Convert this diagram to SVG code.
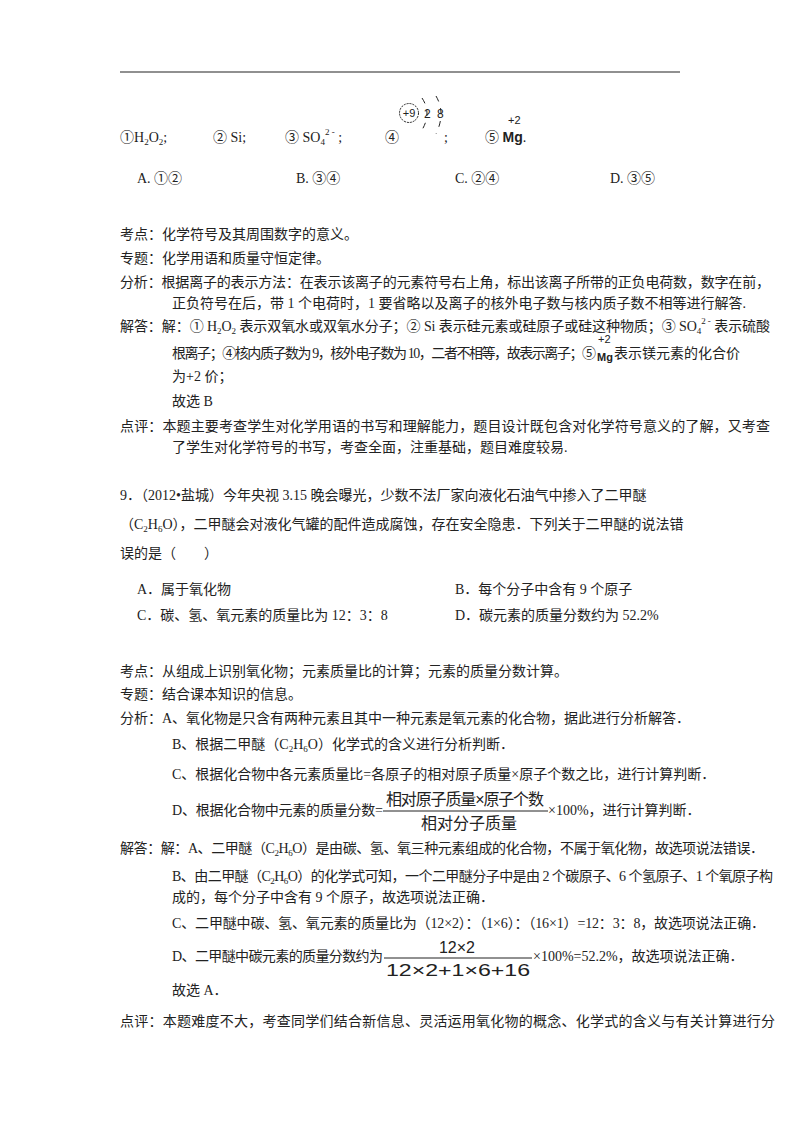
<svg xmlns="http://www.w3.org/2000/svg" width="800" height="1132" viewBox="0 0 800 1132">
<style>
text{font-family:"Liberation Serif","Noto Sans CJK SC",serif;font-size:14px;fill:#222}
.s{font-family:"Liberation Sans","Noto Sans CJK SC",sans-serif}
.sm{font-size:9px}
</style>
<rect width="800" height="1132" fill="#fff"/>
<line x1="120" y1="72" x2="680" y2="72" stroke="#222" stroke-width="1.2"/>
<g id="q8">
<text x="120" y="142">①H<tspan dy="3" class="sm">2</tspan><tspan dy="-3">O</tspan><tspan dy="3" class="sm">2</tspan><tspan dy="-3">;</tspan></text>
<text x="213" y="142">② Si;</text>
<text x="285" y="142">③ SO<tspan dy="3" class="sm">4</tspan><tspan dy="-10" class="sm">2 -</tspan><tspan dy="7"> ;</tspan></text>
<text x="385" y="142">④</text>
<circle cx="409" cy="113" r="9.5" fill="none" stroke="#222" stroke-dasharray="2,1"/>
<text x="409" y="117" class="s" style="font-size:11px" text-anchor="middle">+9</text>
<path d="M422 98 Q432 113 422 130 M436 96 Q446 113 436 134" fill="none" stroke="#222" stroke-dasharray="6,7"/>
<text x="424" y="118" class="s" style="font-size:12px">2</text>
<text x="437" y="118" class="s" style="font-size:12px">8</text>
<text x="444" y="142">;</text>
<text x="485" y="142">⑤ <tspan class="s" font-weight="bold">Mg</tspan>.</text>
<text x="508" y="124" class="s" style="font-size:11px">+2</text>
<text x="137" y="183">A. ①②</text>
<text x="296" y="183">B. ③④</text>
<text x="455" y="183">C. ②④</text>
<text x="610" y="183">D. ③⑤</text>
<text x="120" y="239">考点：化学符号及其周围数字的意义。</text>
<text x="120" y="263">专题：化学用语和质量守恒定律。</text>
<text x="120" y="287" textLength="650" lengthAdjust="spacing">分析：根据离子的表示方法：在表示该离子的元素符号右上角，标出该离子所带的正负电荷数，数字在前，</text>
<text x="172" y="308">正负符号在后，带 1 个电荷时，1 要省略以及离子的核外电子数与核内质子数不相等进行解答.</text>
<text x="120" y="331" textLength="650" lengthAdjust="spacing">解答：解：① H<tspan dy="3" class="sm">2</tspan><tspan dy="-3">O</tspan><tspan dy="3" class="sm">2</tspan><tspan dy="-3"> 表示双氧水或双氧水分子；② Si 表示硅元素或硅原子或硅这种物质；③ SO</tspan><tspan dy="3" class="sm">4</tspan><tspan dy="-10" class="sm">2 -</tspan><tspan dy="7"> 表示硫酸</tspan></text>
<text x="172" y="358" textLength="424" lengthAdjust="spacing">根离子；④核内质子数为 9，核外电子数为 10，二者不相等，故表示离子；⑤</text>
<text x="598" y="343" class="s" style="font-size:11px">+2</text>
<text x="597" y="361" class="s" font-weight="bold" style="font-size:11px">Mg</text>
<text x="614" y="358">表示镁元素的化合价</text>
<text x="172" y="381">为+2 价；</text>
<text x="172" y="406">故选 B</text>
<text x="120" y="431" textLength="650" lengthAdjust="spacing">点评：本题主要考查学生对化学用语的书写和理解能力，题目设计既包含对化学符号意义的了解，又考查</text>
<text x="172" y="452">了学生对化学符号的书写，考查全面，注重基础，题目难度较易.</text>
</g>
<g id="q9">
<text x="120" y="500">9．（2012•盐城）今年央视 3.15 晚会曝光，少数不法厂家向液化石油气中掺入了二甲醚</text>
<text x="120" y="529">（C<tspan dy="3" class="sm">2</tspan><tspan dy="-3">H</tspan><tspan dy="3" class="sm">6</tspan><tspan dy="-3">O），二甲醚会对液化气罐的配件造成腐蚀，存在安全隐患．下列关于二甲醚的说法错</tspan></text>
<text x="120" y="558">误的是（　　）</text>
<text x="137" y="594">A．属于氧化物</text>
<text x="455" y="594">B．每个分子中含有 9 个原子</text>
<text x="137" y="620">C．碳、氢、氧元素的质量比为 12：3：8</text>
<text x="455" y="620">D．碳元素的质量分数约为 52.2%</text>
<text x="120" y="676">考点：从组成上识别氧化物；元素质量比的计算；元素的质量分数计算。</text>
<text x="120" y="699">专题：结合课本知识的信息。</text>
<text x="120" y="723">分析：A、氧化物是只含有两种元素且其中一种元素是氧元素的化合物，据此进行分析解答．</text>
<text x="172" y="749">B、根据二甲醚（C<tspan dy="3" class="sm">2</tspan><tspan dy="-3">H</tspan><tspan dy="3" class="sm">6</tspan><tspan dy="-3">O）化学式的含义进行分析判断．</tspan></text>
<text x="172" y="779">C、根据化合物中各元素质量比=各原子的相对原子质量×原子个数之比，进行计算判断．</text>
<text x="172" y="815" textLength="211" lengthAdjust="spacing">D、根据化合物中元素的质量分数=</text>
<text x="386" y="805" class="s" style="font-size:16px" textLength="158">相对原子质量×原子个数</text>
<line x1="383" y1="811" x2="548" y2="811" stroke="#222"/>
<text x="421" y="829" class="s" style="font-size:16px">相对分子质量</text>
<text x="548" y="815">×100%，进行计算判断．</text>
<text x="120" y="853" textLength="644" lengthAdjust="spacing">解答：解：A、二甲醚（C<tspan dy="3" class="sm">2</tspan><tspan dy="-3">H</tspan><tspan dy="3" class="sm">6</tspan><tspan dy="-3">O）是由碳、氢、氧三种元素组成的化合物，不属于氧化物，故选项说法错误．</tspan></text>
<text x="172" y="881" textLength="601" lengthAdjust="spacing">B、由二甲醚（C<tspan dy="3" class="sm">2</tspan><tspan dy="-3">H</tspan><tspan dy="3" class="sm">6</tspan><tspan dy="-3">O）的化学式可知，一个二甲醚分子中是由 2 个碳原子、6 个氢原子、1 个氧原子构</tspan></text>
<text x="172" y="902">成的，每个分子中含有 9 个原子，故选项说法正确．</text>
<text x="172" y="928" textLength="593" lengthAdjust="spacing">C、二甲醚中碳、氢、氧元素的质量比为（12×2）：（1×6）：（16×1）=12：3：8，故选项说法正确．</text>
<text x="172" y="961" textLength="211" lengthAdjust="spacing">D、二甲醚中碳元素的质量分数约为</text>
<text x="457" y="953" class="s" style="font-size:16px" text-anchor="middle">12×2</text>
<line x1="384" y1="958" x2="532" y2="958" stroke="#222"/>
<text x="386" y="976" class="s" style="font-size:16px" textLength="144" lengthAdjust="spacingAndGlyphs">12×2+1×6+16</text>
<text x="533" y="961">×100%=52.2%，故选项说法正确．</text>
<text x="172" y="995">故选 A．</text>
<text x="120" y="1026" textLength="655" lengthAdjust="spacing">点评：本题难度不大，考查同学们结合新信息、灵活运用氧化物的概念、化学式的含义与有关计算进行分</text>
</g>
</svg>
